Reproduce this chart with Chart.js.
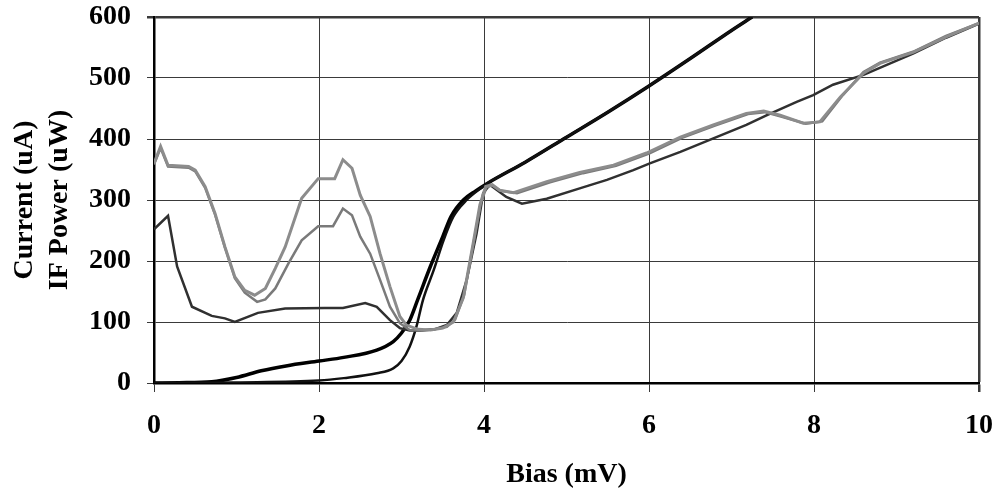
<!DOCTYPE html>
<html>
<head>
<meta charset="utf-8">
<script src="https://cdn.jsdelivr.net/npm/chart.js@4.4.1/dist/chart.umd.min.js"></script>
<style>
  html, body { margin: 0; padding: 0; background: #ffffff; }
  #c { display: block; }
</style>
</head>
<body>
<canvas id="c" width="998" height="492"></canvas>
<script>
// ---- Data ----
const xTicks = [0, 2, 4, 6, 8, 10];
const yTicks = [0, 100, 200, 300, 400, 500, 600];

// Pumped I-V curve (thick black)
const ivPumpedBias = [0, 0.3, 0.7, 1.0, 1.3, 1.6, 2.0, 2.3, 2.7, 2.9, 3.0, 3.1, 3.2, 3.35, 3.5, 3.6, 3.75, 3.9, 4.05, 4.5, 5.0, 5.5, 6.0, 6.5, 7.0, 7.25];
const ivPumpedCurrent = [0, 0.5, 2, 9, 20, 28, 36, 42, 54, 68, 82, 103, 138, 191, 240, 273, 300, 315, 328, 362, 403, 444, 487, 532, 578, 600];

// Unpumped I-V curve (black)
const ivDarkBias = [0, 1.0, 2.0, 2.3, 2.7, 2.9, 3.0, 3.1, 3.18, 3.26, 3.39, 3.51, 3.63, 3.79, 3.99, 4.05, 4.5, 5.0, 5.5, 6.0, 6.5, 7.0, 7.25];
const ivDarkCurrent = [0, 1, 4, 8, 16, 24, 36, 60, 92, 136, 185, 234, 273, 300, 322, 328, 362, 403, 444, 487, 532, 578, 600];

// IF power, hot load (upper grey)
const ifHotBias = [0, 0.08, 0.17, 0.42, 0.5, 0.62, 0.74, 0.86, 0.98, 1.1, 1.22, 1.35, 1.47, 1.59, 1.79, 1.99, 2.19, 2.29, 2.4, 2.5, 2.62, 2.74, 2.86, 2.98, 3.06, 3.2, 3.35, 3.5, 3.63, 3.75, 3.87, 3.95, 4.02, 4.1, 4.19, 4.36, 4.76, 5.16, 5.57, 5.97, 6.38, 6.78, 7.18, 7.39, 7.59, 7.87, 8.07, 8.32, 8.6, 8.8, 9.2, 9.61, 10];
const ifHotPower = [360, 388, 357, 355, 349, 322, 278, 223, 174, 152, 144, 155, 188, 223, 303, 335, 335, 366, 352, 308, 273, 212, 158, 109, 95, 88, 87, 90, 100, 140, 230, 292, 322, 325, 316, 312, 330, 345, 357, 377, 403, 423, 442, 446, 439, 426, 428, 469, 508, 524, 542, 568, 590];

// IF power, cold load (lower grey)
const ifColdBias = [0, 0.08, 0.17, 0.42, 0.5, 0.62, 0.74, 0.86, 0.98, 1.1, 1.25, 1.35, 1.47, 1.63, 1.79, 1.99, 2.17, 2.29, 2.4, 2.5, 2.62, 2.74, 2.86, 2.98, 3.1, 3.25, 3.4, 3.55, 3.65, 3.76, 3.88, 3.96, 4.03, 4.1, 4.2, 4.4, 4.8, 5.2, 5.6, 6.0, 6.4, 6.8, 7.2, 7.4, 7.6, 7.9, 8.1, 8.35, 8.6, 8.8, 9.2, 9.6, 10];
const ifColdPower = [358, 385, 355, 353, 347, 320, 276, 222, 172, 148, 133, 137, 155, 196, 234, 257, 257, 286, 275, 240, 212, 169, 125, 98, 87, 86, 88, 92, 104, 145, 235, 294, 321, 324, 315, 311, 329, 344, 356, 376, 402, 422, 441, 444, 437, 425, 429, 472, 510, 525, 543, 569, 590];

// IF power, unpumped (dark)
const ifDarkBias = [0, 0.17, 0.28, 0.46, 0.7, 0.86, 0.98, 1.26, 1.59, 2.07, 2.29, 2.56, 2.7, 2.86, 2.98, 3.1, 3.23, 3.4, 3.55, 3.67, 3.79, 3.91, 3.99, 4.07, 4.27, 4.46, 4.76, 5.16, 5.49, 5.81, 6.01, 6.38, 6.78, 7.18, 7.43, 7.79, 7.99, 8.23, 8.6, 9.2, 9.6, 10];
const ifDarkPower = [252, 274, 191, 125, 110, 106, 100, 115, 122, 123, 123, 131, 125, 103, 90, 86, 86, 88, 95, 115, 169, 245, 311, 325, 305, 294, 302, 319, 333, 349, 360, 379, 401, 423, 439, 461, 472, 489, 505, 540, 566, 589];

function pts(xs, ys) { return xs.map((x, i) => ({ x: x, y: ys[i] })); }

const FONT = "'Liberation Serif', 'Times New Roman', serif";

new Chart(document.getElementById('c'), {
  type: 'scatter',
  data: {
    datasets: [
      { data: pts(ifHotBias, ifHotPower), borderColor: '#8c8c8c', borderWidth: 3, showLine: true, pointRadius: 0, tension: 0 },
      { data: pts(ifColdBias, ifColdPower), borderColor: '#7a7a7a', borderWidth: 2.5, showLine: true, pointRadius: 0, tension: 0 },
      { data: pts(ifDarkBias, ifDarkPower), borderColor: '#303030', borderWidth: 2.5, showLine: true, pointRadius: 0, tension: 0 },
      { data: pts(ivDarkBias, ivDarkCurrent), borderColor: '#111111', borderWidth: 2.5, showLine: true, pointRadius: 0, cubicInterpolationMode: 'monotone' },
      { data: pts(ivPumpedBias, ivPumpedCurrent), borderColor: '#000000', borderWidth: 3.5, showLine: true, pointRadius: 0, cubicInterpolationMode: 'monotone' }
    ]
  },
  options: {
    responsive: false,
    animation: false,
    devicePixelRatio: 1,
    layout: { padding: { top: 17, right: 19, left: 0, bottom: 0 } },
    plugins: { legend: { display: false }, tooltip: { enabled: false } },
    scales: {
      x: {
        type: 'linear', min: 0, max: 10,
        afterBuildTicks: (s) => { s.ticks = xTicks.map(v => ({ value: v })); },
        afterFit: (s) => { s.height = 109; s.paddingLeft = 0; s.paddingRight = 0; },
        ticks: { color: '#000', padding: 17, font: { family: FONT, size: 28, weight: 'bold' } },
        grid: {
          color: '#3a3a3a', tickColor: '#3a3a3a', tickLength: 9,
          lineWidth: (c) => (c.tick && c.tick.value === 10 ? 2.5 : 1)
        },
        border: { display: true, color: '#000', width: 2.5 },
        title: { display: true, text: 'Bias (mV)', color: '#000', padding: { top: 0, bottom: 0 }, font: { family: FONT, size: 28, weight: 'bold' } }
      },
      y: {
        type: 'linear', min: 0, max: 600,
        afterBuildTicks: (s) => { s.ticks = yTicks.map(v => ({ value: v })); },
        afterFit: (s) => { s.width = 154; s.paddingTop = 0; s.paddingBottom = 0; },
        ticks: { color: '#000', padding: 16, font: { family: FONT, size: 28, weight: 'bold' } },
        grid: {
          color: '#3a3a3a', tickColor: '#3a3a3a', tickLength: 7,
          lineWidth: (c) => (c.tick && c.tick.value === 600 ? 2.5 : 1)
        },
        border: { display: true, color: '#000', width: 2.5 },
        title: { display: true, text: ['Current (uA)', 'IF Power (uW)'], color: '#000', padding: { top: 7.5, bottom: 0 }, font: { family: FONT, size: 28, weight: 'bold', lineHeight: 1.25 } }
      }
    }
  }
});
</script>
</body>
</html>
